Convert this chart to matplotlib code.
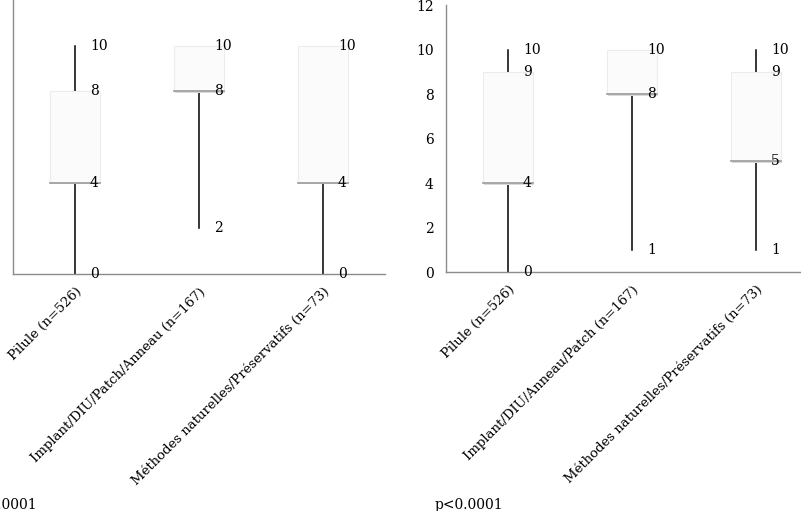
import matplotlib
matplotlib.use("Agg")
import matplotlib.pyplot as plt
from matplotlib.patches import Rectangle

categories_left = ["Pilule (n=526)", "Implant/DIU/Patch/Anneau (n=167)",
                   "Méthodes naturelles/Préservatifs (n=73)"]
left_min = [0, 2, 0]
left_q1 = [4, 8, 4]
left_q3 = [8, 10, 10]
left_max = [10, 10, 10]

categories_right = ["Pilule (n=526)", "Implant/DIU/Anneau/Patch (n=167)",
                    "Méthodes naturelles/Préservatifs (n=73)"]
right_min = [0, 1, 1]
right_q1 = [4, 8, 5]
right_q3 = [9, 10, 9]
right_max = [10, 10, 10]

y_ticks = [0, 2, 4, 6, 8, 10, 12]
p_text = "p<0.0001"

FONT = "DejaVu Serif"
W, H = 801, 511
fig = plt.figure(figsize=(W / 100, H / 100), dpi=100)


def panel(ax, cats, mins, q1s, q3s, maxs, show_y):
    ax.set_xlim(-0.5, len(cats) - 0.5)
    ax.set_ylim(0, 12)
    for s in ["top", "right"]:
        ax.spines[s].set_visible(False)
    for s in ["left", "bottom"]:
        ax.spines[s].set_color("#8c8c8c")
        ax.spines[s].set_linewidth(1.0)
    ax.tick_params(length=0)
    ax.set_yticks(y_ticks)
    if show_y:
        ax.set_yticklabels([str(t) for t in y_ticks], family=FONT, fontsize=10)
        ax.tick_params(axis="y", pad=9)
    else:
        ax.set_yticklabels([])
    ax.set_xticks(range(len(cats)))
    ax.set_xticklabels(cats, rotation=45, ha="right", rotation_mode="anchor",
                       family=FONT, fontsize=9.5)
    ax.tick_params(axis="x", pad=8)
    bw = 0.4
    for i, (mn, a, b, mx) in enumerate(zip(mins, q1s, q3s, maxs)):
        # whiskers
        ax.plot([i, i], [mn, a], color="black", lw=1.1, zorder=2, clip_on=False)
        ax.plot([i, i], [b, mx], color="black", lw=1.1, zorder=2, clip_on=False)
        # shadow
        ax.add_patch(Rectangle((i - bw / 2 + 0.01, a - 0.08), bw, b - a,
                               facecolor="#d9d9d9", edgecolor="none", zorder=2.5))
        ax.add_patch(Rectangle((i - bw / 2, a), bw, b - a,
                               facecolor="#fbfbfb", edgecolor="#ececec", lw=0.8, zorder=3))
        ax.plot([i - bw / 2, i + bw / 2], [a, a], color="#9a9a9a", lw=1.2, zorder=3.5)
        for v in sorted(set([mn, a, b, mx])):
            ax.text(i + 0.12, v, str(v), family=FONT, fontsize=10,
                    va="center", ha="left", zorder=4)


ax1 = fig.add_axes([13 / W, 1 - 274 / H, 372 / W, 274 / H])
panel(ax1, categories_left, left_min, left_q1, left_q3, left_max, False)

ax2 = fig.add_axes([446 / W, 1 - 272 / H, 372 / W, (272 - 5.5) / H])
panel(ax2, categories_right, right_min, right_q1, right_q3, right_max, True)

fig.text(-31 / W, 1 - 505 / H, p_text, family=FONT, fontsize=10, va="center", ha="left")
fig.text(435 / W, 1 - 505 / H, p_text, family=FONT, fontsize=10, va="center", ha="left")

fig.savefig("out.png", dpi=100)
